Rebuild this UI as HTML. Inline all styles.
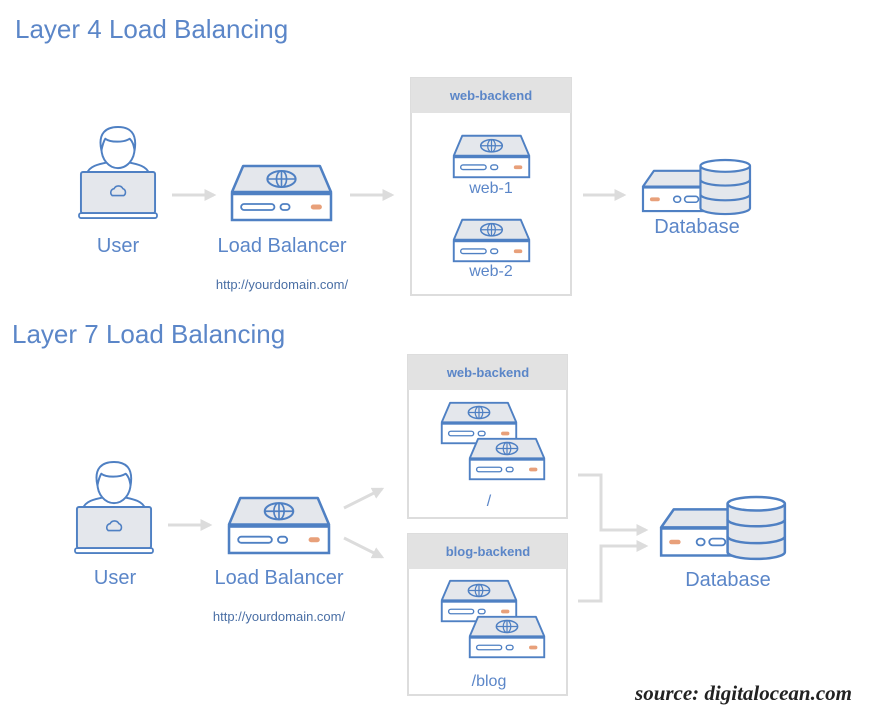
<!DOCTYPE html>
<html><head><meta charset="utf-8"><style>
body{margin:0;background:#fff;width:872px;height:714px;overflow:hidden}
text{font-family:"Liberation Sans",sans-serif}
</style></head><body>
<svg width="872" height="714" viewBox="0 0 872 714" xmlns="http://www.w3.org/2000/svg">
<defs>
<symbol id="srv" viewBox="0 0 100 56" overflow="visible" preserveAspectRatio="none">
 <path d="M12 1 H88 L99 27 H1 Z" fill="#e4e7ec" stroke="#4f80c3" stroke-width="2.5" stroke-linejoin="round"/>
 <ellipse cx="50" cy="14" rx="14" ry="8" fill="none" stroke="#4f80c3" stroke-width="2"/>
 <ellipse cx="50" cy="14" rx="5" ry="8" fill="none" stroke="#4f80c3" stroke-width="1.6"/>
 <line x1="36" y1="14" x2="64" y2="14" stroke="#4f80c3" stroke-width="1.6"/>
 <line x1="50" y1="6" x2="50" y2="22" stroke="#4f80c3" stroke-width="1.6"/>
 <rect x="1" y="29" width="98" height="26" fill="#fff" stroke="#4f80c3" stroke-width="2.5"/>
 <rect x="10" y="39" width="33" height="6" rx="3" fill="none" stroke="#4f80c3" stroke-width="1.8"/>
 <rect x="49" y="39" width="9" height="6" rx="3" fill="none" stroke="#4f80c3" stroke-width="1.8"/>
 <rect x="79" y="39.5" width="11" height="5" rx="2.5" fill="#e8a07a"/>
</symbol>
<symbol id="db" viewBox="0 0 110 56" overflow="visible" preserveAspectRatio="none">
 <path d="M12 11 H62 V27 H1 Z" fill="#e4e7ec" stroke="#4f80c3" stroke-width="2.2" stroke-linejoin="round"/>
 <rect x="1" y="28" width="61" height="24" fill="#fff" stroke="#4f80c3" stroke-width="2.2"/>
 <rect x="8" y="38" width="10" height="4" rx="2" fill="#e8a07a"/>
 <rect x="32" y="37" width="7" height="6" rx="3" fill="none" stroke="#4f80c3" stroke-width="1.6"/>
 <rect x="43" y="37" width="14" height="6" rx="3" fill="none" stroke="#4f80c3" stroke-width="1.6"/>
 <path d="M59 6 V49 A25 6 0 0 0 109 49 V6" fill="#e4e7ec" stroke="#4f80c3" stroke-width="2.2"/>
 <ellipse cx="84" cy="6" rx="25" ry="6" fill="#fff" stroke="#4f80c3" stroke-width="2.2"/>
 <path d="M59 20 A25 6 0 0 0 109 20 M59 35 A25 6 0 0 0 109 35" fill="none" stroke="#4f80c3" stroke-width="2.2"/>
</symbol>
<symbol id="user" viewBox="0 0 80 98" overflow="visible" preserveAspectRatio="none">
 <path d="M8 50 C10 42 20 40 30 38 L50 38 C60 40 70 42 72 50 Z" fill="#fff" stroke="#4f80c3" stroke-width="2"/>
 <ellipse cx="40" cy="24" rx="17" ry="20" fill="#fff" stroke="#4f80c3" stroke-width="2"/>
 <path d="M23 26 C19 8 28 2 40 2 C52 2 60 8 57 26 C56 20 55 17 52 14 C46 18 32 18 27 14 C25 17 24 21 23 26 Z" fill="#fff" stroke="#4f80c3" stroke-width="2" stroke-linejoin="round"/>
 <rect x="2" y="48" width="76" height="42" rx="2" fill="#e4e7ec" stroke="#4f80c3" stroke-width="2"/>
 <rect x="0" y="90" width="80" height="5" rx="2" fill="#fff" stroke="#4f80c3" stroke-width="1.8"/>
 <path d="M34 72 a4 4 0 0 1 2 -7 a5 5 0 0 1 9 0 a4 4 0 0 1 1 7 Z" fill="none" stroke="#4f80c3" stroke-width="1.6"/>
</symbol>
<marker id="ah" viewBox="0 0 10 10" refX="8" refY="5" markerWidth="4" markerHeight="4" orient="auto"><path d="M0 0 L10 5 L0 10 Z" fill="#dcdcdc"/></marker>
</defs>

<text x="15" y="38" font-size="26" fill="#5b86c8">Layer 4 Load Balancing</text>
<use href="#user" x="79" y="125" width="78" height="96"/>
<text x="118" y="252" font-size="20" fill="#5b86c8" text-anchor="middle">User</text>
<line x1="172" y1="195" x2="214" y2="195" stroke="#dcdcdc" stroke-width="3" marker-end="url(#ah)"/>
<use href="#srv" x="231" y="165" width="101" height="56"/>
<text x="282" y="252" font-size="20" fill="#5b86c8" text-anchor="middle">Load Balancer</text>
<text x="282" y="289" font-size="13" fill="#4a6fa5" text-anchor="middle">http://yourdomain.com/</text>
<line x1="350" y1="195" x2="392" y2="195" stroke="#dcdcdc" stroke-width="3" marker-end="url(#ah)"/>
<rect x="411" y="78" width="160" height="217" fill="#fff" stroke="#ddd" stroke-width="2"/>
<rect x="411" y="78" width="160" height="35" fill="#e2e2e2"/>
<text x="491" y="100" font-size="13" font-weight="bold" fill="#5b86c8" text-anchor="middle">web-backend</text>
<use href="#srv" x="453" y="135" width="77" height="43"/>
<text x="491" y="193" font-size="16" fill="#5b86c8" text-anchor="middle">web-1</text>
<use href="#srv" x="453" y="219" width="77" height="43"/>
<text x="491" y="276" font-size="16" fill="#5b86c8" text-anchor="middle">web-2</text>
<line x1="583" y1="195" x2="624" y2="195" stroke="#dcdcdc" stroke-width="3" marker-end="url(#ah)"/>
<use href="#db" x="642" y="160" width="109" height="55"/>
<text x="697" y="233" font-size="20" fill="#5b86c8" text-anchor="middle">Database</text>

<text x="12" y="343" font-size="26" fill="#5b86c8">Layer 7 Load Balancing</text>
<use href="#user" x="75" y="460" width="78" height="96"/>
<text x="115" y="584" font-size="20" fill="#5b86c8" text-anchor="middle">User</text>
<line x1="168" y1="525" x2="210" y2="525" stroke="#dcdcdc" stroke-width="3" marker-end="url(#ah)"/>
<use href="#srv" x="228" y="497" width="102" height="57"/>
<text x="279" y="584" font-size="20" fill="#5b86c8" text-anchor="middle">Load Balancer</text>
<text x="279" y="621" font-size="13" fill="#4a6fa5" text-anchor="middle">http://yourdomain.com/</text>
<line x1="344" y1="508" x2="382" y2="489" stroke="#dcdcdc" stroke-width="3" marker-end="url(#ah)"/>
<line x1="344" y1="538" x2="382" y2="557" stroke="#dcdcdc" stroke-width="3" marker-end="url(#ah)"/>

<rect x="408" y="355" width="159" height="163" fill="#fff" stroke="#ddd" stroke-width="2"/>
<rect x="408" y="355" width="159" height="35" fill="#e2e2e2"/>
<text x="488" y="377" font-size="13" font-weight="bold" fill="#5b86c8" text-anchor="middle">web-backend</text>
<use href="#srv" x="441" y="402" width="76" height="42"/>
<use href="#srv" x="469" y="438" width="76" height="42"/>
<text x="489" y="506" font-size="16" fill="#5b86c8" text-anchor="middle">/</text>

<rect x="408" y="534" width="159" height="161" fill="#fff" stroke="#ddd" stroke-width="2"/>
<rect x="408" y="534" width="159" height="35" fill="#e2e2e2"/>
<text x="488" y="556" font-size="13" font-weight="bold" fill="#5b86c8" text-anchor="middle">blog-backend</text>
<use href="#srv" x="441" y="580" width="76" height="42"/>
<use href="#srv" x="469" y="616" width="76" height="42"/>
<text x="489" y="686" font-size="16" fill="#5b86c8" text-anchor="middle">/blog</text>

<polyline points="578,475 601,475 601,530 646,530" fill="none" stroke="#dcdcdc" stroke-width="3" marker-end="url(#ah)"/>
<polyline points="578,601 601,601 601,546 646,546" fill="none" stroke="#dcdcdc" stroke-width="3" marker-end="url(#ah)"/>
<use href="#db" x="660" y="497" width="126" height="63"/>
<text x="728" y="586" font-size="20" fill="#5b86c8" text-anchor="middle">Database</text>

<text x="852" y="700" font-size="21" font-weight="bold" font-style="italic" fill="#222" text-anchor="end" style="font-family:'Liberation Serif',serif">source: digitalocean.com</text>
</svg>
</body></html>
